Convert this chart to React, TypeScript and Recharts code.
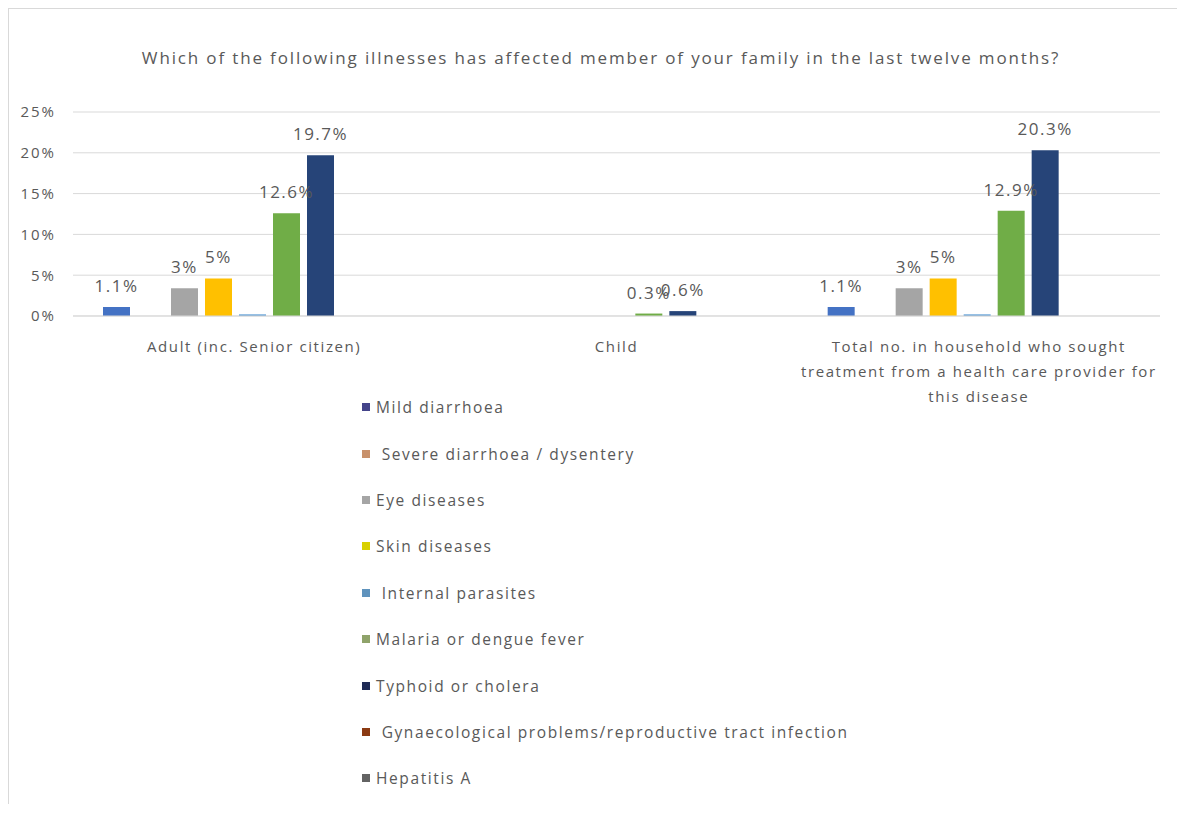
import React from 'react'
import {
  Bar,
  BarChart,
  CartesianGrid,
  LabelList,
  Legend,
  XAxis,
  YAxis,
} from 'recharts'

const TITLE =
  'Which of the following illnesses has affected member of your family in the last twelve months?'

const categories = [
  'Adult (inc. Senior citizen)',
  'Child',
  'Total no. in household who sought\ntreatment from a health care provider for\nthis disease',
]

const seriesKeys = [
  'mild',
  'severe',
  'eye',
  'skin',
  'parasites',
  'malaria',
  'typhoid',
  'gyn',
  'hepA',
]

const seriesNames = [
  'Mild diarrhoea',
  ' Severe diarrhoea / dysentery',
  'Eye diseases',
  'Skin diseases',
  ' Internal parasites',
  'Malaria or dengue fever',
  'Typhoid or cholera',
  ' Gynaecological problems/reproductive tract infection',
  'Hepatitis A',
]

const barColors = [
  '#4472C4',
  '#ED7D31',
  '#A5A5A5',
  '#FFC000',
  '#5B9BD5',
  '#70AD47',
  '#264478',
  '#9E480E',
  '#636363',
]

const legendColors = [
  '#44448A',
  '#C8916B',
  '#A5A5A5',
  '#D8D000',
  '#5F93BD',
  '#8FA36A',
  '#1E2A55',
  '#8B3A12',
  '#636363',
]

// values in %, one per category
const mild = [1.1, 0, 1.1]
const severe = [0, 0, 0]
const eye = [3.4, 0, 3.4]
const skin = [4.6, 0, 4.6]
const parasites = [0.2, 0, 0.2]
const malaria = [12.6, 0.3, 12.9]
const typhoid = [19.7, 0.6, 20.3]
const gyn = [0, 0, 0]
const hepA = [0, 0, 0]

const mildLabels = ['1.1%', undefined, '1.1%']
const eyeLabels = ['3%', undefined, '3%']
const skinLabels = ['5%', undefined, '5%']
const malariaLabels = ['12.6%', '0.3%', '12.9%']
const typhoidLabels = ['19.7%', '0.6%', '20.3%']

const yTicks = [0, 5, 10, 15, 20, 25]

const seriesValues = [mild, severe, eye, skin, parasites, malaria, typhoid, gyn, hepA]
const seriesLabels: Array<Array<string | undefined> | undefined> = [
  mildLabels,
  undefined,
  eyeLabels,
  skinLabels,
  undefined,
  malariaLabels,
  typhoidLabels,
  undefined,
  undefined,
]

const data = categories.map((name, i) => {
  const row: Record<string, unknown> = { name }
  seriesKeys.forEach((key, s) => {
    row[key] = seriesValues[s][i]
    row[`${key}Label`] = seriesLabels[s]?.[i]
  })
  return row
})

const TEXT_COLOR = '#595959'
const FONT = '"Open Sans", "Liberation Sans", sans-serif'

type TickProps = {
  x?: number
  y?: number
  payload?: { value: string }
}

const CategoryTick = ({ x = 0, y = 0, payload }: TickProps) => {
  const lines = (payload?.value ?? '').split('\n')
  return (
    <text
      x={x}
      y={y + 28}
      textAnchor='middle'
      fill={TEXT_COLOR}
      fontSize={15}
      fontFamily={FONT}
      letterSpacing={1.6}
    >
      {lines.map((line, i) => (
        <tspan key={i} x={x} dy={i === 0 ? 0 : 25}>
          {line}
        </tspan>
      ))}
    </text>
  )
}

const LegendList = () => (
  <div
    style={{
      fontFamily: FONT,
      fontSize: 15.5,
      color: TEXT_COLOR,
      letterSpacing: 1.6,
    }}
  >
    {seriesNames.map((name, i) => (
      <div
        key={name}
        style={{ height: 46.4, display: 'flex', alignItems: 'center', whiteSpace: 'pre' }}
      >
        <span
          style={{
            width: 8,
            height: 8,
            background: legendColors[i],
            marginRight: 6,
            display: 'inline-block',
          }}
        />
        {name}
      </div>
    ))}
  </div>
)

const App = (): JSX.Element => {
  return (
    <div
      style={{
        position: 'relative',
        width: 1168,
        height: 795,
        borderTop: '1px solid #d9d9d9',
        borderLeft: '1px solid #d9d9d9',
        fontFamily: FONT,
      }}
    >
      <div
        style={{
          position: 'absolute',
          top: 37,
          left: 8,
          width: 1168,
          textAlign: 'center',
          fontSize: 17,
          letterSpacing: 1.85,
          color: TEXT_COLOR,
          whiteSpace: 'nowrap',
          zIndex: 1,
        }}
      >
        {TITLE}
      </div>
      <BarChart
        width={1168}
        height={795}
        data={data}
        margin={{ top: 103, right: 17, left: 0, bottom: 458 }}
        barCategoryGap={30}
        barGap={7}
      >
        <CartesianGrid vertical={false} stroke='#d9d9d9' />
        <XAxis
          dataKey='name'
          height={30}
          tickLine={false}
          axisLine={{ stroke: '#d9d9d9' }}
          tick={<CategoryTick />}
          interval={0}
        />
        <YAxis
          width={64}
          domain={[0, 25]}
          ticks={yTicks}
          tickFormatter={(v: number) => `${v}%`}
          tickLine={false}
          axisLine={false}
          tickSize={0}
          tickMargin={17}
          tick={{
            fill: TEXT_COLOR,
            fontSize: 15,
            fontFamily: FONT,
            letterSpacing: 2,
          }}
        />
        {seriesKeys.map((key, s) => (
          <Bar
            key={key}
            dataKey={key}
            name={seriesNames[s]}
            fill={barColors[s]}
            isAnimationActive={false}
          >
            <LabelList
              dataKey={`${key}Label`}
              position='top'
              offset={15}
              fill={TEXT_COLOR}
              fontSize={17}
              fontFamily={FONT}
              letterSpacing={1.5}
            />
          </Bar>
        ))}
        <Legend
          layout='vertical'
          align='center'
          verticalAlign='middle'
          content={<LegendList />}
          wrapperStyle={{ left: 353, top: 375, width: 600 }}
        />
      </BarChart>
    </div>
  )
}

export default App
